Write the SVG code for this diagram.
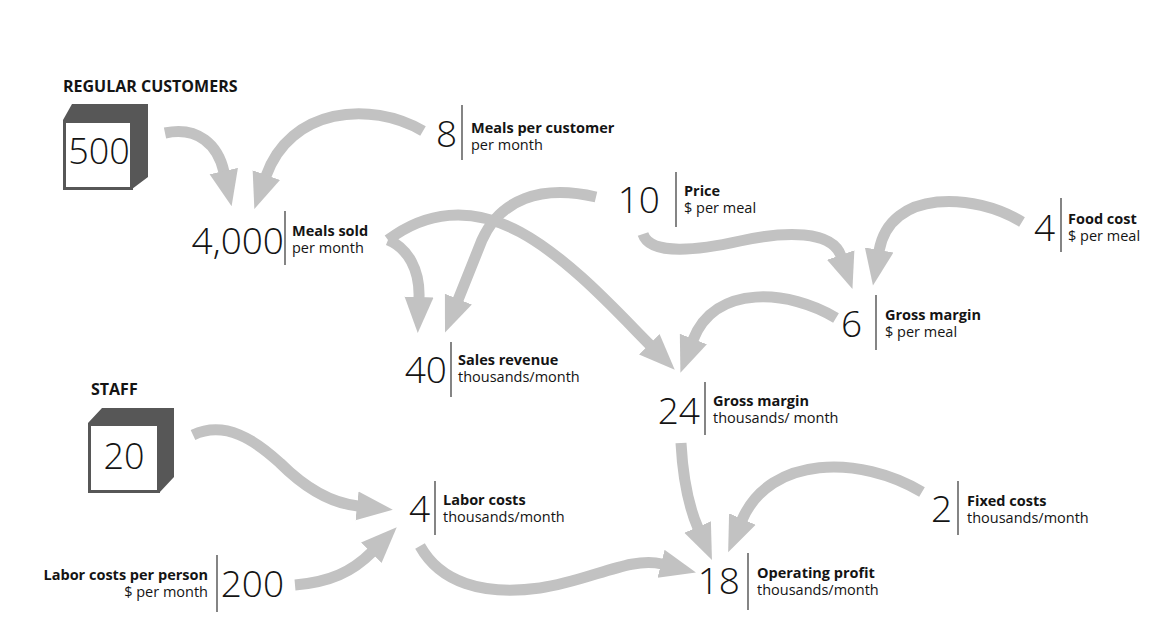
<svg xmlns="http://www.w3.org/2000/svg" width="1171" height="623" viewBox="0 0 1171 623">
<style>
text{font-family:"Open Sans","Noto Sans","Liberation Sans",sans-serif;fill:#141414}
.num{font-size:37px;font-weight:300;text-anchor:end}
.bx{font-size:36px;font-weight:300;text-anchor:middle}
.b{font-size:14.5px;font-weight:700}
.r{font-size:14.5px;font-weight:400}
.h{font-size:16px;font-weight:700}
.e{text-anchor:end}
.sep{stroke:#333;stroke-width:1.2}
.side{fill:#575757}
.face{fill:#fff;stroke:#575757;stroke-width:3}
.arr{fill:none;stroke:#c2c2c2;stroke-width:11;marker-end:url(#ah)}
</style>
<defs>
<marker id="ah" markerUnits="userSpaceOnUse" viewBox="0 -16 38 32" refX="1" refY="0" markerWidth="38" markerHeight="32" orient="auto">
<path d="M0,-14.5 L36,0 L0,14.5 Z" fill="#c2c2c2"/>
</marker>
</defs>
<rect width="1171" height="623" fill="#fff"/>
<g id="connectors">
<path class="arr" d="M165,133 C198,126 218,145 224,172"/>
<path class="arr" d="M423,131 C370,100 290,108 266,176"/>
<path class="arr" d="M596,197 C540,184 500,200 482,240 L458,300"/>
<path class="arr" d="M388,240 C408,248 420,270 419,298"/>
<path class="arr" d="M388,240 C425,212 470,205 520,232 S620,315 650,345"/>
<path class="arr" d="M643,234 C650,256 700,250 740,241 C785,231 832,230 841,256"/>
<path class="arr" d="M1022,222 C975,193 890,188 879,251"/>
<path class="arr" d="M836,318 C790,290 715,283 693,340"/>
<path class="arr" d="M193,435 C225,420 255,440 280,463 C305,488 330,503 358,506"/>
<path class="arr" d="M295,585 C330,582 352,572 372,552"/>
<path class="arr" d="M420,546 C440,582 482,596 540,588 C590,581 630,556 662,564"/>
<path class="arr" d="M681,443 C683,480 688,505 698,528"/>
<path class="arr" d="M922,492 C860,455 770,455 742,520"/>
</g>
<g id="regular-customers">
<text class="h" x="63" y="92">REGULAR CUSTOMERS</text>
<polygon class="side" points="63,120 72,104 148,104 148,177 132,189 132,120"/>
<rect class="face" x="64.5" y="121.5" width="67" height="67"/>
<text class="bx" x="99" y="164">500</text>
</g>
<g id="staff">
<text class="h" x="91" y="395">STAFF</text>
<polygon class="side" points="88,423 102,408 174,408 174,477 159,493 159,423"/>
<rect class="face" x="89.5" y="424.5" width="69" height="67"/>
<text class="bx" x="124" y="469">20</text>
</g>
<g id="meals-per-customer">
<text class="num" x="457" y="147">8</text>
<line class="sep" x1="462" y1="105" x2="462" y2="160"/>
<text class="b" x="471" y="133">Meals per customer</text>
<text class="r" x="471" y="150">per month</text>
</g>
<g id="meals-sold">
<text class="num" x="284" y="254">4,000</text>
<line class="sep" x1="285" y1="211" x2="285" y2="265"/>
<text class="b" x="292" y="236">Meals sold</text>
<text class="r" x="292" y="253">per month</text>
</g>
<g id="price">
<text class="num" x="660" y="213">10</text>
<line class="sep" x1="676" y1="172" x2="676" y2="227"/>
<text class="b" x="684" y="196">Price</text>
<text class="r" x="684" y="213">$ per meal</text>
</g>
<g id="food-cost">
<text class="num" x="1055" y="241">4</text>
<line class="sep" x1="1061" y1="198" x2="1061" y2="252"/>
<text class="b" x="1068" y="224">Food cost</text>
<text class="r" x="1068" y="241">$ per meal</text>
</g>
<g id="gross-margin-meal">
<text class="num" x="862" y="337">6</text>
<line class="sep" x1="876" y1="295" x2="876" y2="350"/>
<text class="b" x="885" y="320">Gross margin</text>
<text class="r" x="885" y="337">$ per meal</text>
</g>
<g id="sales-revenue">
<text class="num" x="447" y="383">40</text>
<line class="sep" x1="451" y1="342" x2="451" y2="397"/>
<text class="b" x="458" y="365">Sales revenue</text>
<text class="r" x="458" y="382">thousands/month</text>
</g>
<g id="gross-margin">
<text class="num" x="700" y="424">24</text>
<line class="sep" x1="705" y1="382" x2="705" y2="435"/>
<text class="b" x="713" y="406">Gross margin</text>
<text class="r" x="713" y="423">thousands/ month</text>
</g>
<g id="labor-costs">
<text class="num" x="430" y="522">4</text>
<line class="sep" x1="435" y1="481" x2="435" y2="535"/>
<text class="b" x="443" y="505">Labor costs</text>
<text class="r" x="443" y="522">thousands/month</text>
</g>
<g id="fixed-costs">
<text class="num" x="952" y="522">2</text>
<line class="sep" x1="958" y1="481" x2="958" y2="535"/>
<text class="b" x="967" y="506">Fixed costs</text>
<text class="r" x="967" y="523">thousands/month</text>
</g>
<g id="operating-profit">
<text class="num" x="740" y="594">18</text>
<line class="sep" x1="748" y1="553" x2="748" y2="610"/>
<text class="b" x="757" y="578">Operating profit</text>
<text class="r" x="757" y="595">thousands/month</text>
</g>
<g id="labor-cost-per-person">
<text class="num" x="284" y="597">200</text>
<line class="sep" x1="217" y1="555" x2="217" y2="612"/>
<text class="b e" x="208" y="580">Labor costs per person</text>
<text class="r e" x="208" y="597">$ per month</text>
</g>
</svg>
